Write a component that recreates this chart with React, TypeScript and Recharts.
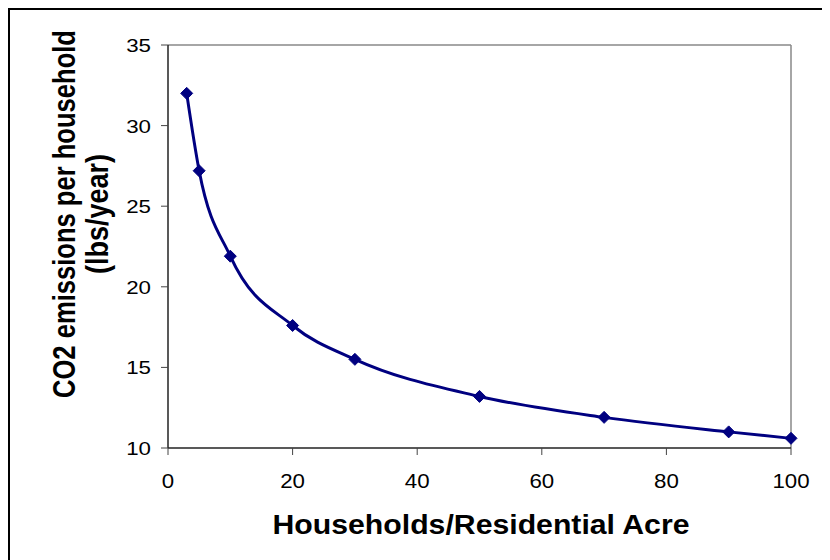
import React from "react";
import { LineChart, Line, XAxis, YAxis, ReferenceLine, Label } from "recharts";

const density = [3, 5, 10, 20, 30, 50, 70, 90, 100];
const emissions = [32.0, 27.2, 21.9, 17.6, 15.5, 13.2, 11.9, 11.0, 10.6];
const xTicks = [0, 20, 40, 60, 80, 100];
const yTicks = [10, 15, 20, 25, 30, 35];
const xTitle = "Households/Residential Acre";
const yTitleLines = ["CO2 emissions per household", "(lbs/year)"];

const data = density.map((d, i) => ({ x: d, y: emissions[i] }));

const FONT = "'Liberation Sans', Arial, sans-serif";
const NAVY = "#000080";
const DIGIT_W = 12.4;

const Diamond = (props: any) => {
  const { cx, cy, index } = props;
  if (cx == null || cy == null) return null;
  const r = 6;
  return (
    <polygon
      key={`d-${index}`}
      points={`${cx},${cy - r} ${cx + r},${cy} ${cx},${cy + r} ${cx - r},${cy}`}
      fill={NAVY}
      stroke={NAVY}
    />
  );
};

const XTick = (props: any) => {
  const { x, payload } = props;
  const s = String(payload.value);
  return (
    <text
      x={x}
      y={478}
      textAnchor="middle"
      fontFamily={FONT}
      fontSize={19.5}
      fill="#000"
      textLength={DIGIT_W * s.length}
      lengthAdjust="spacingAndGlyphs"
    >
      {s}
    </text>
  );
};

const YTick = (props: any) => {
  const { y, payload } = props;
  const s = String(payload.value);
  return (
    <text
      x={141}
      y={y + 7}
      textAnchor="end"
      fontFamily={FONT}
      fontSize={19}
      fill="#000"
      textLength={DIGIT_W * s.length}
      lengthAdjust="spacingAndGlyphs"
    >
      {s}
    </text>
  );
};

const YTitle = () => {
  const cy = 204;
  const style = { fontFamily: FONT, fontWeight: "bold" as const, fontSize: 26, fill: "#000" };
  return (
    <g>
      <text
        x={0}
        y={0}
        transform={`translate(65, ${cy}) scale(1.2, 1) rotate(-90)`}
        textAnchor="middle"
        textLength={368}
        lengthAdjust="spacingAndGlyphs"
        {...style}
      >
        {yTitleLines[0]}
      </text>
      <text
        x={0}
        y={0}
        transform={`translate(98, ${cy}) scale(1.2, 1) rotate(-90)`}
        textAnchor="middle"
        textLength={120}
        lengthAdjust="spacingAndGlyphs"
        {...style}
      >
        {yTitleLines[1]}
      </text>
    </g>
  );
};

const XTitle = () => (
  <text
    x={471}
    y={524}
    textAnchor="middle"
    fontFamily={FONT}
    fontWeight="bold"
    fontSize={27}
    fill="#000"
    textLength={417}
    lengthAdjust="spacingAndGlyphs"
  >
    {xTitle}
  </text>
);

export default function App() {
  return (
    <div
      style={{
        width: 822,
        height: 552,
        boxSizing: "border-box",
        borderTop: "2px solid #000",
        borderLeft: "2px solid #000",
        background: "#fff",
      }}
    >
      <LineChart
        width={820}
        height={550}
        data={data}
        margin={{ top: 35, right: 39, bottom: 0, left: 0 }}
      >
        <XAxis
          dataKey="x"
          type="number"
          domain={[0, 100]}
          ticks={xTicks}
          allowDecimals={false}
          axisLine={{ stroke: "#222", strokeWidth: 1.5 }}
          tickLine={{ stroke: "#444" }}
          tickSize={7}
          tick={<XTick />}
          height={112}
        >
          <Label content={<XTitle />} />
        </XAxis>
        <YAxis
          type="number"
          domain={[10, 35]}
          ticks={yTicks}
          axisLine={{ stroke: "#222", strokeWidth: 1.5 }}
          tickLine={{ stroke: "#444" }}
          tickSize={7}
          tick={<YTick />}
          width={158}
        >
          <Label content={<YTitle />} />
        </YAxis>
        <ReferenceLine y={35} stroke="#888" strokeWidth={1.5} />
        <ReferenceLine x={100} stroke="#888" strokeWidth={1.5} />
        <Line
          type="monotone"
          dataKey="y"
          stroke={NAVY}
          strokeWidth={3}
          dot={<Diamond />}
          activeDot={false}
          isAnimationActive={false}
        />
      </LineChart>
    </div>
  );
}
